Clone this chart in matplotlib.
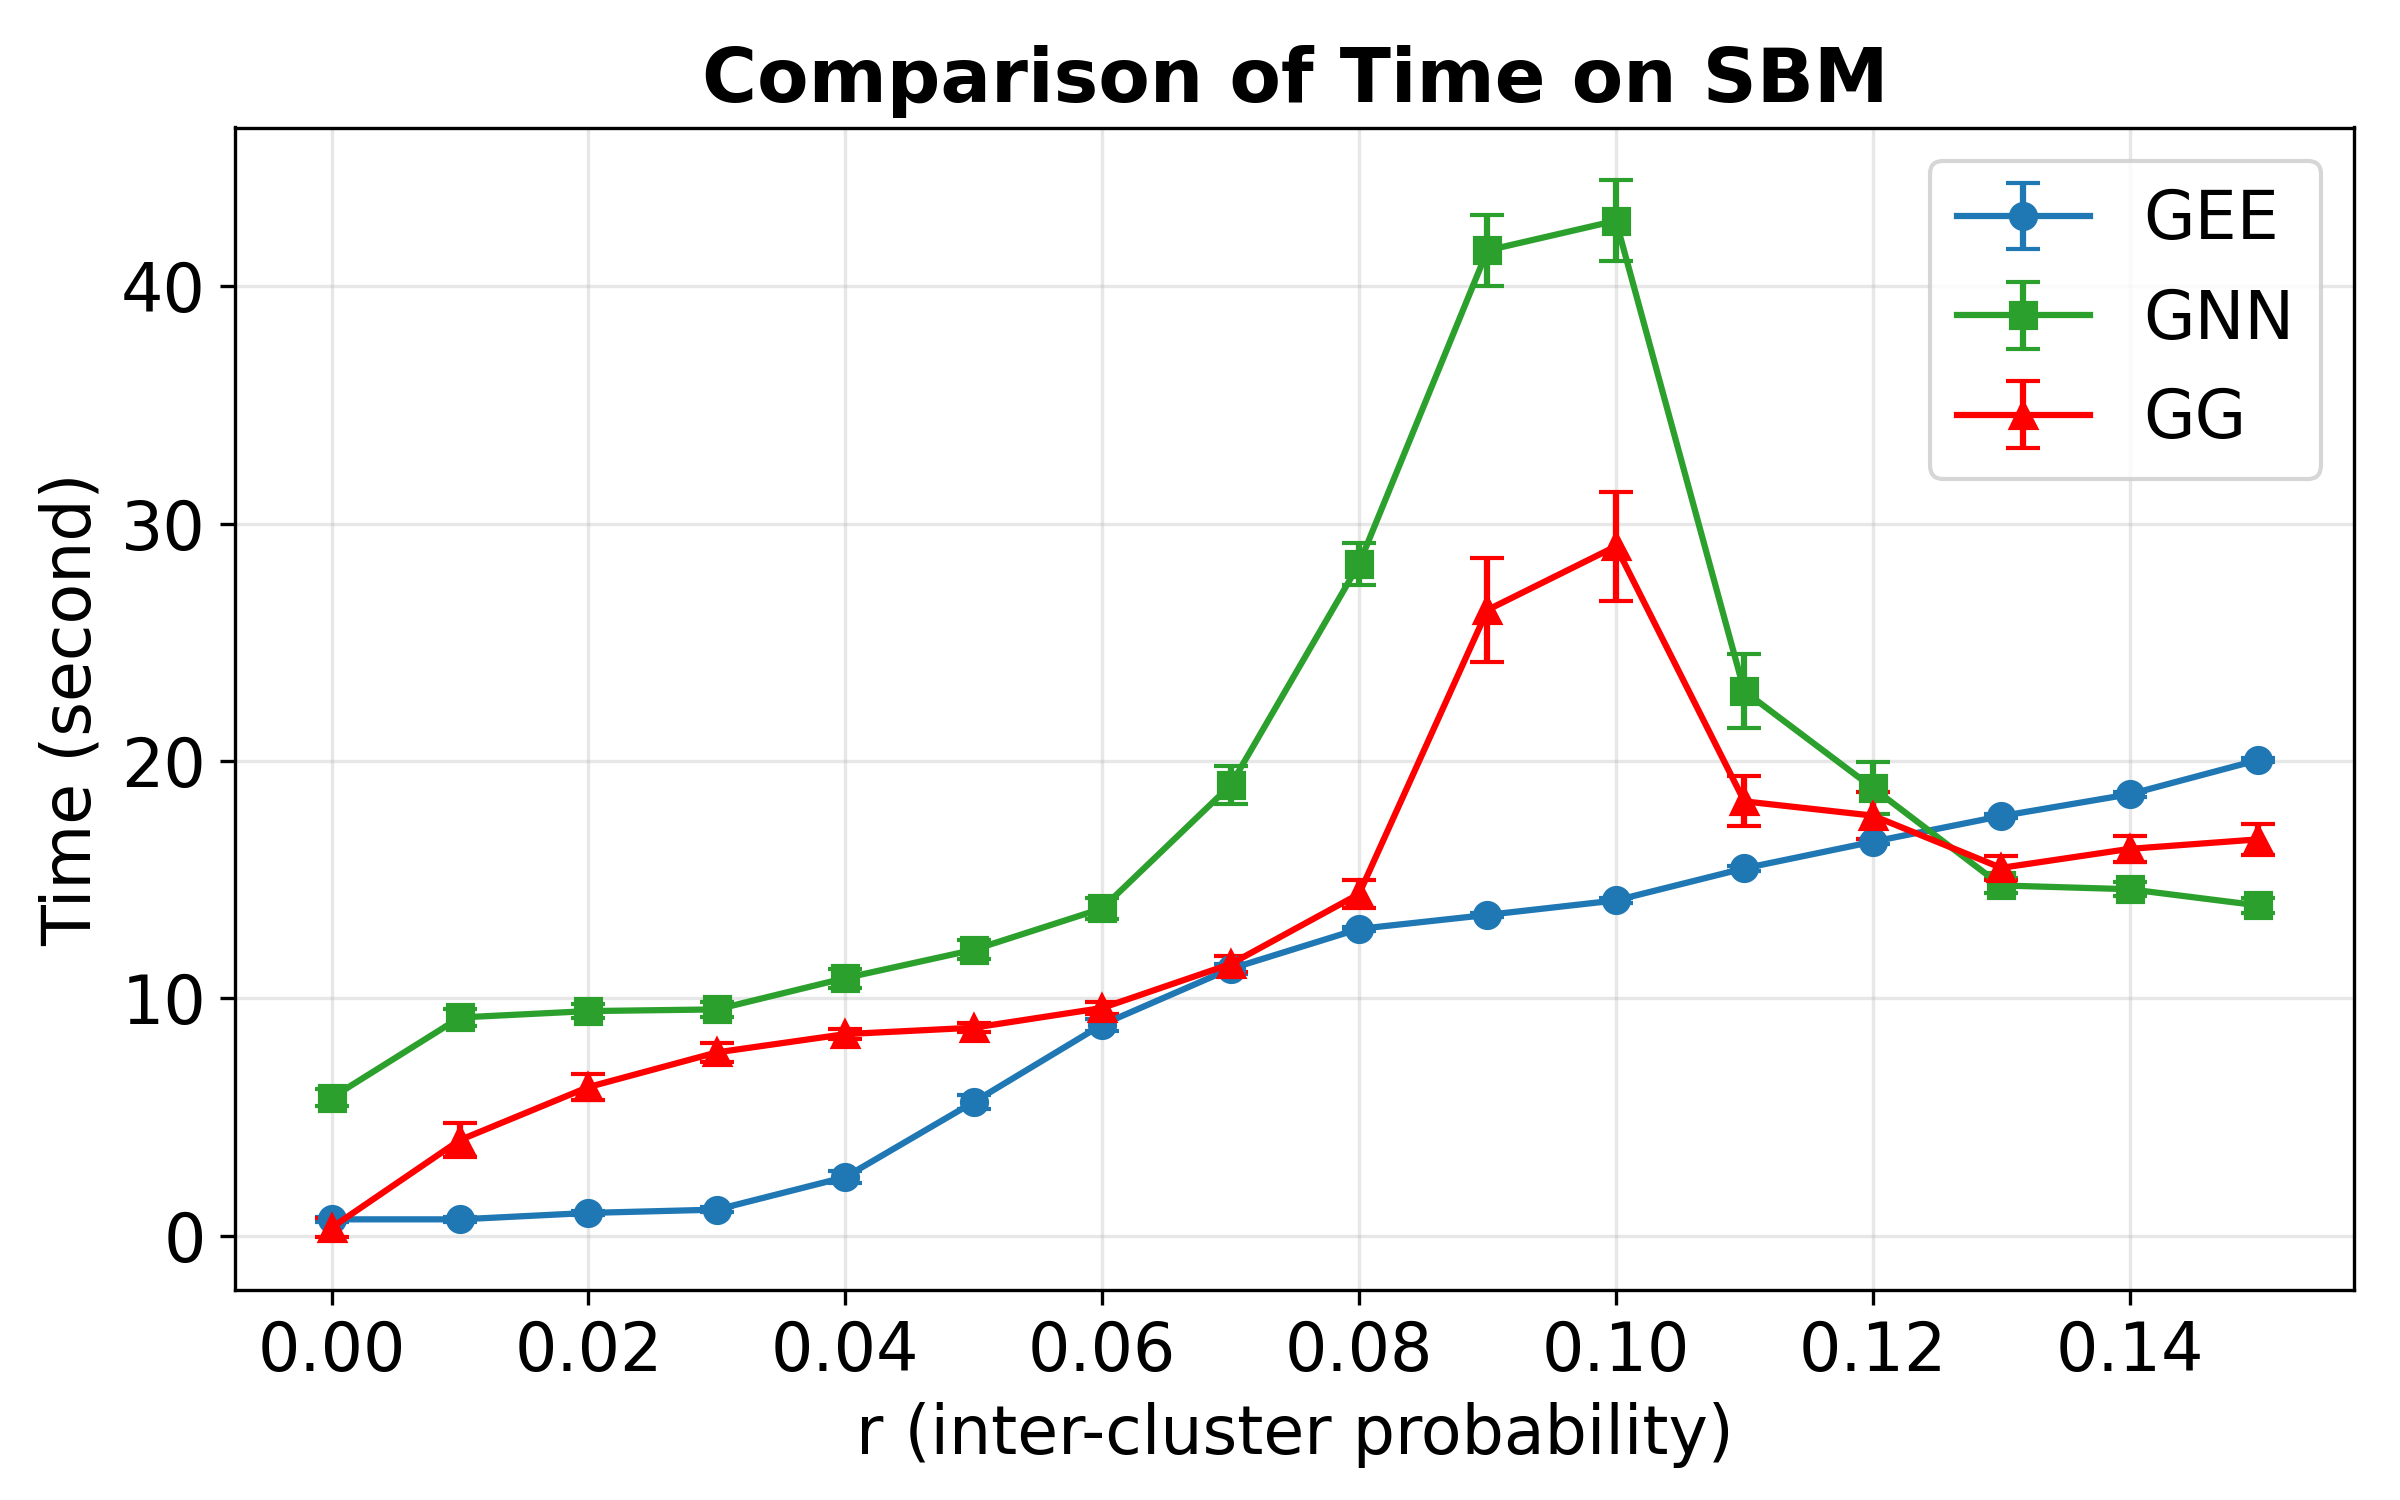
import matplotlib
matplotlib.use("Agg")
import matplotlib.pyplot as plt
import numpy as np

r = [0.00, 0.01, 0.02, 0.03, 0.04, 0.05, 0.06, 0.07, 0.08, 0.09, 0.10, 0.11, 0.12, 0.13, 0.14, 0.15]

gee_mean = [0.7, 0.7, 0.97, 1.11, 2.48, 5.64, 8.9, 11.25, 12.93, 13.52, 14.13, 15.48, 16.6, 17.68, 18.6, 20.04]
gee_err = [0.1, 0.1, 0.1, 0.1, 0.25, 0.3, 0.25, 0.2, 0.1, 0.1, 0.1, 0.1, 0.1, 0.1, 0.1, 0.1]

gnn_mean = [5.82, 9.2, 9.47, 9.54, 10.86, 12.05, 13.79, 18.98, 28.29, 41.5, 42.75, 22.94, 18.87, 14.76, 14.6, 13.92]
gnn_err = [0.35, 0.35, 0.3, 0.3, 0.4, 0.4, 0.45, 0.8, 0.9, 1.5, 1.7, 1.55, 1.1, 0.3, 0.3, 0.3]

gg_mean = [0.35, 4.04, 6.27, 7.73, 8.5, 8.77, 9.6, 11.45, 14.4, 26.36, 29.04, 18.3, 17.7, 15.5, 16.3, 16.7]
gg_err = [0.4, 0.7, 0.55, 0.4, 0.2, 0.2, 0.25, 0.35, 0.6, 2.2, 2.3, 1.05, 1.0, 0.5, 0.55, 0.65]

fig, ax = plt.subplots(figsize=(8, 5), dpi=300)
kw = dict(capsize=4, linewidth=1.5, markersize=6)
ax.errorbar(r, gee_mean, yerr=gee_err, fmt='-o', color='#1f77b4', label='GEE', **kw)
ax.errorbar(r, gnn_mean, yerr=gnn_err, fmt='-s', color='#2ca02c', label='GNN', **kw)
ax.errorbar(r, gg_mean, yerr=gg_err, fmt='-^', color='red', label='GG', **kw)

ax.set_title('Comparison of Time on SBM', fontsize=18, fontweight='bold')
ax.set_xlabel('r (inter-cluster probability)', fontsize=16)
ax.set_ylabel('Time (second)', fontsize=16)
ax.tick_params(labelsize=16)
ax.grid(True, alpha=0.3)
ax.legend(fontsize=16, loc='upper right')
fig.subplots_adjust(left=0.098, right=0.981, top=0.915, bottom=0.14)
fig.savefig('out.png', dpi=300)
